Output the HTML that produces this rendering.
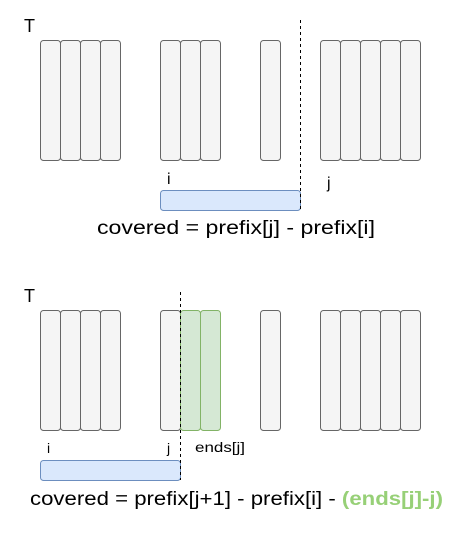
<!DOCTYPE html>
<html><head><meta charset="utf-8"><style>
body{margin:0;background:#fff;}
svg text{font-family:"Liberation Sans",sans-serif;fill:#000;}
</style></head><body>
<svg width="471" height="541">
<g id="topg"></g>
<g id="botg"></g>
</svg>
<script>
const NS="http://www.w3.org/2000/svg";
const cellsX=[40,60,80,100,160,180,200,260,320,340,360,380,400];
const greenCellsX=[180,200];
function mk(p,tag,a,name){const e=document.createElementNS(NS,tag);for(const k in a)e.setAttribute(k,a[k]);


p.appendChild(e);return e;}
function draw(g,oy,green){
  const t=mk(g,'text',{x:24,y:oy+32,'font-size':18},'t-label');t.textContent='T';
  cellsX.forEach(x=>{const gr=green&&greenCellsX.includes(x);
    mk(g,'rect',{x:x+0.5,y:oy+40.5,width:20,height:120,rx:3,fill:gr?'#d5e8d4':'#f5f5f5',stroke:gr?'#82b366':'#666'},gr?'green-cell':'cell');});
}
const topG=document.getElementById('topg'),botG=document.getElementById('botg');
draw(topG,0,false);
mk(topG,'rect',{x:160.5,y:190.5,width:140,height:20,rx:3,fill:'#dae8fc',stroke:'#6c8ebf'},'covered-range');
mk(topG,'line',{x1:300.5,y1:20,x2:300.5,y2:210,stroke:'#000','stroke-dasharray':'3,3'},'j-boundary');
let e=mk(topG,'text',{x:167,y:184,'font-size':16},'i-label');e.textContent='i';
e=mk(topG,'text',{x:327,y:188,'font-size':16},'j-label');e.textContent='j';
e=mk(topG,'text',{x:97,y:234,'font-size':19,textLength:278,lengthAdjust:'spacingAndGlyphs'},'formula');e.textContent='covered = prefix[j] - prefix[i]';
draw(botG,270,true);
mk(botG,'rect',{x:40.5,y:460.5,width:140,height:20,rx:3,fill:'#dae8fc',stroke:'#6c8ebf'},'covered-range');
mk(botG,'line',{x1:180.5,y1:292,x2:180.5,y2:480,stroke:'#000','stroke-dasharray':'3,3'},'j-boundary');
e=mk(botG,'text',{x:47,y:453,'font-size':14},'i-label');e.textContent='i';
e=mk(botG,'text',{x:167,y:453,'font-size':14},'j-label');e.textContent='j';
e=mk(botG,'text',{x:195,y:452,'font-size':14,textLength:50,lengthAdjust:'spacingAndGlyphs'},'ends-label');e.textContent='ends[j]';
e=mk(botG,'text',{x:30,y:505,'font-size':19,textLength:413,lengthAdjust:'spacingAndGlyphs'},'formula');
e.innerHTML='covered = prefix[j+1] - prefix[i] - <tspan font-weight="bold" style="fill:#97d077">(ends[j]-j)</tspan>';
</script>
</body></html>
